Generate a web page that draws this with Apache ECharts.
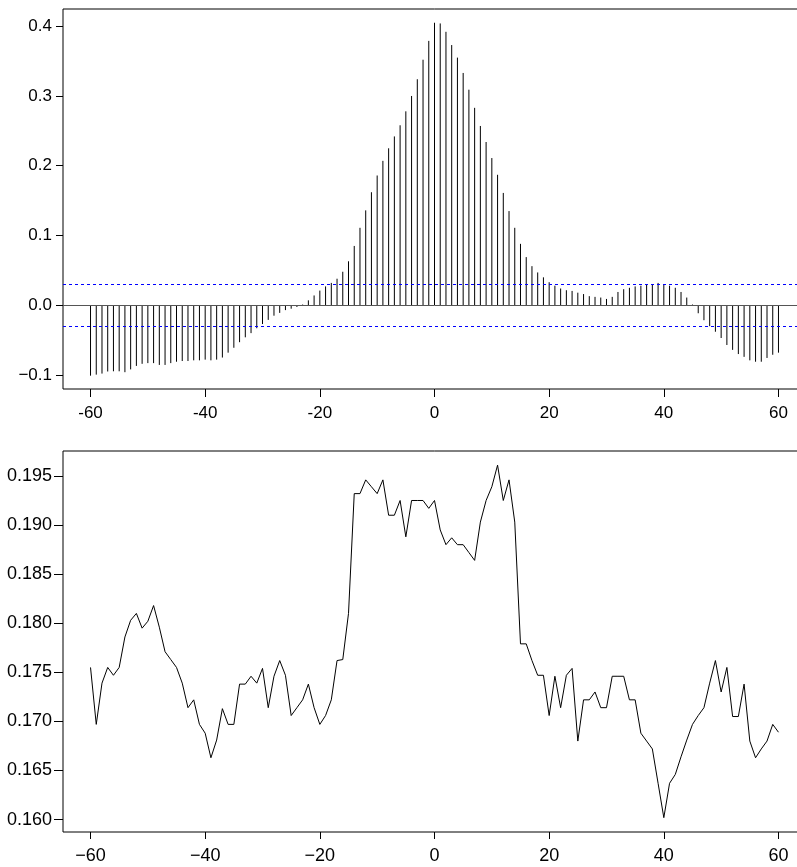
<!DOCTYPE html>
<html><head><meta charset="utf-8">
<script src="https://cdn.jsdelivr.net/npm/echarts@6/dist/echarts.min.js"></script>
<style>html,body{margin:0;padding:0;background:#fff;overflow:hidden}#c{width:815px;height:867px}</style>
</head><body><div id="c"></div>
<script>
// ---- data ----
const lags = [
 -60,-59,-58,-57,-56,-55,-54,-53,-52,-51,-50,-49,-48,-47,-46,-45,-44,-43,-42,-41,
 -40,-39,-38,-37,-36,-35,-34,-33,-32,-31,-30,-29,-28,-27,-26,-25,-24,-23,-22,-21,
 -20,-19,-18,-17,-16,-15,-14,-13,-12,-11,-10,-9,-8,-7,-6,-5,-4,-3,-2,-1,
 0,1,2,3,4,5,6,7,8,9,10,11,12,13,14,15,16,17,18,19,
 20,21,22,23,24,25,26,27,28,29,30,31,32,33,34,35,36,37,38,39,
 40,41,42,43,44,45,46,47,48,49,50,51,52,53,54,55,56,57,58,59,60
];
const ccfValues = [
 -0.101,-0.0995,-0.098,-0.095,-0.0947,-0.0947,-0.096,-0.092,-0.087,-0.084,
 -0.083,-0.083,-0.0856,-0.0856,-0.083,-0.081,-0.080,-0.080,-0.079,-0.079,
 -0.078,-0.079,-0.078,-0.075,-0.068,-0.061,-0.053,-0.046,-0.040,-0.033,
 -0.027,-0.021,-0.015,-0.011,-0.007,-0.005,-0.0025,0.001,0.007,0.014,
 0.021,0.027,0.032,0.038,0.048,0.063,0.085,0.111,0.136,0.162,
 0.186,0.207,0.225,0.242,0.258,0.278,0.300,0.324,0.352,0.379,
 0.405,0.404,0.392,0.373,0.355,0.333,0.309,0.283,0.257,0.234,
 0.211,0.187,0.161,0.135,0.111,0.088,0.069,0.056,0.047,0.040,
 0.033,0.028,0.024,0.0215,0.0205,0.018,0.016,0.013,0.012,0.011,
 0.009,0.012,0.019,0.023,0.025,0.027,0.028,0.029,0.030,0.032,
 0.030,0.028,0.025,0.019,0.011,0.001,-0.0115,-0.0215,-0.030,-0.038,
 -0.047,-0.057,-0.064,-0.070,-0.074,-0.079,-0.081,-0.081,-0.0756,-0.071,-0.068
];
const bottomValues = [
 0.1755,0.1697,0.1739,0.1755,0.1747,0.1755,0.1786,0.1803,0.1810,0.1795,
 0.1802,0.1818,0.1796,0.1771,0.1763,0.1755,0.1739,0.1714,0.1722,0.1697,
 0.1688,0.1663,0.1681,0.1713,0.1697,0.1697,0.1738,0.1738,0.1746,0.1739,
 0.1754,0.1714,0.1746,0.1762,0.1747,0.1706,0.1714,0.1722,0.1738,0.1714,
 0.1697,0.1706,0.1722,0.1762,0.1763,0.1810,0.1932,0.1932,0.1946,0.1939,
 0.1932,0.1946,0.1910,0.1910,0.1925,0.1888,0.1925,0.1925,0.1925,0.1917,
 0.1925,0.1895,0.1880,0.1887,0.1880,0.1880,0.1872,0.1864,0.1903,0.1925,
 0.1939,0.1961,0.1925,0.1946,0.1903,0.1779,0.1779,0.1762,0.1747,0.1747,
 0.1706,0.1746,0.1714,0.1747,0.1754,0.1680,0.1722,0.1722,0.1730,0.1714,
 0.1714,0.1746,0.1746,0.1746,0.1722,0.1722,0.1688,0.1680,0.1672,0.1637,
 0.1602,0.1637,0.1646,0.1664,0.1681,0.1697,0.1706,0.1714,0.1739,0.1762,
 0.1730,0.1755,0.1705,0.1705,0.1738,0.1680,0.1663,0.1672,0.1680,0.1697,0.1689
];
const ciLevel = 0.032;
const xTicks = [-60,-40,-20,0,20,40,60];
const topYTicks = [-0.1,0.0,0.1,0.2,0.3,0.4];
const bottomYTicks = [0.160,0.165,0.170,0.175,0.180,0.185,0.190,0.195];

// ---- chart ----
const chart = echarts.init(document.getElementById('c'), null, {renderer:'canvas'});
const FONT = 'Liberation Sans, Arial, Helvetica, sans-serif';
const minus = s => s.replace('-', '\u2212');
const stemData = lags.map((l,i)=>[l, ccfValues[i]]);
const lineData = lags.map((l,i)=>[l, bottomValues[i]]);

chart.setOption({
  animation:false,
  backgroundColor:'#fff',
  grid:[
    {left:63, top:9, width:743, height:380, show:true, borderColor:'#000', borderWidth:1, backgroundColor:'transparent'},
    {left:63, top:451, width:743, height:381, show:true, borderColor:'#000', borderWidth:1, backgroundColor:'transparent'}
  ],
  xAxis:[
    {type:'value', gridIndex:0, position:'bottom', min:-64.8, max:64.8, splitLine:{show:false},
     axisLine:{show:false, onZero:false},
     axisTick:{show:true, customValues:xTicks, length:8, lineStyle:{color:'#000'}},
     axisLabel:{customValues:xTicks, margin:16, color:'#000', fontSize:17, fontFamily:FONT,
       formatter:v=>String(v)}},
    {type:'value', gridIndex:1, position:'bottom', min:-64.8, max:64.8, splitLine:{show:false},
     axisLine:{show:false, onZero:false},
     axisTick:{show:true, customValues:xTicks, length:7, lineStyle:{color:'#000'}},
     axisLabel:{customValues:xTicks, margin:15, color:'#000', fontSize:18, fontFamily:FONT,
       formatter:v=>minus(String(v))}}
  ],
  yAxis:[
    {type:'value', gridIndex:0, position:'left', min:-0.1201, max:0.4247, splitLine:{show:false},
     axisLine:{show:false, onZero:false},
     axisTick:{show:true, customValues:topYTicks, length:7, lineStyle:{color:'#000'}},
     axisLabel:{customValues:topYTicks, margin:11, color:'#000', fontSize:17, fontFamily:FONT,
       formatter:v=>minus(v.toFixed(1))}},
    {type:'value', gridIndex:1, position:'left', min:0.15874, max:0.19754, splitLine:{show:false},
     axisLine:{show:false, onZero:false},
     axisTick:{show:true, customValues:bottomYTicks, length:9, lineStyle:{color:'#000'}},
     axisLabel:{customValues:bottomYTicks, margin:11, color:'#000', fontSize:18, fontFamily:FONT,
       formatter:v=>v.toFixed(3)}}
  ],
  series:[
    {type:'custom', xAxisIndex:0, yAxisIndex:0, data:stemData, silent:true,
     renderItem:(params, api)=>{
       const x = api.value(0), y = api.value(1);
       const p0 = api.coord([x,0]), p1 = api.coord([x,y]);
       return {type:'line', shape:{x1:p0[0], y1:p0[1], x2:p1[0], y2:p1[1]},
               style:{stroke:'#000', lineWidth:1}};
     },
     markLine:{silent:true, symbol:'none', label:{show:false}, animation:false,
       data:[
         {yAxis:0, lineStyle:{color:'#555', type:'solid', width:1}},
         {yAxis:ciLevel, lineStyle:{color:'#0000ff', type:[3,3], width:1}},
         {yAxis:-ciLevel, lineStyle:{color:'#0000ff', type:[3,3], width:1}}
       ]}
    },
    {type:'line', xAxisIndex:1, yAxisIndex:1, data:lineData, showSymbol:false, symbol:'none',
     lineStyle:{color:'#000', width:1}, silent:true}
  ]
});
</script>
</body></html>
